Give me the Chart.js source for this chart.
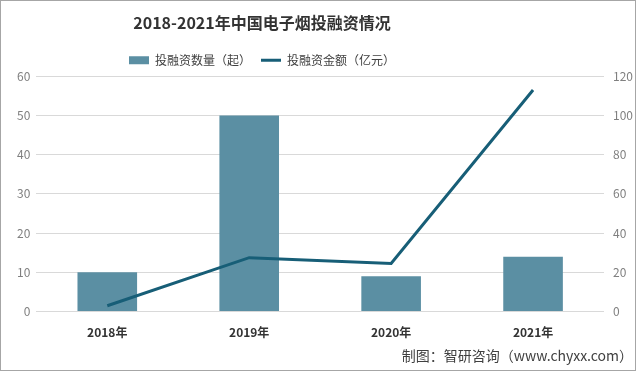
<!DOCTYPE html>
<html>
<head>
<meta charset="utf-8">
<script src="https://cdn.jsdelivr.net/npm/chart.js@4"></script>
<style>
    body { margin: 0; background: #fff; }
    .wrap { position: relative; width: 634px; height: 369px; border: 1px solid #a6a6a6; }
    .source { position: absolute; right: 2px; bottom: 5px; font: 14px "Noto Sans CJK SC", sans-serif; color: #404040; }
</style>
</head>
<body>
<div class="wrap">
    <canvas id="myChart" width="634" height="369"></canvas>
    <div class="source">制图：智研咨询（www.chyxx.com）</div>
</div>
<script>
const years = ['2018年', '2019年', '2020年', '2021年'];
const dealCount = [10, 50, 9, 14];
const dealAmount = [3, 27.5, 24.5, 113];
const leftTicks = [0, 10, 20, 30, 40, 50, 60];
const rightTicks = [0, 20, 40, 60, 80, 100, 120];

const cjk = '"Noto Sans CJK SC", sans-serif';

// title and legend sit left of centre in the original
const shiftHeader = {
    id: 'shiftHeader',
    beforeDraw(chart) {
        [chart.titleBlock, chart.legend].forEach(box => {
            box.left = 0;
            box.right = 522;
        });
    },
};

const dataChart = {
    labels: years,
    datasets: [
        {
            type: 'line',
            label: '投融资金额（亿元）',
            data: dealAmount,
            yAxisID: 'y1',
            borderColor: '#175e77',
            backgroundColor: '#175e77',
            borderWidth: 3,
            pointRadius: 0,
            pointStyle: 'line',
            tension: 0,
            order: 0,
        },
        {
            type: 'bar',
            label: '投融资数量（起）',
            data: dealCount,
            yAxisID: 'y',
            backgroundColor: '#5b8fa3',
            pointStyle: 'rect',
            categoryPercentage: 1,
            barPercentage: 0.42,
            order: 1,
        },
    ],
};

const configChart = {
    data: dataChart,
    options: {
        responsive: false,
        animation: false,
        layout: { padding: { left: 10, right: -7, top: 6, bottom: 24 } },
        plugins: {
            title: {
                display: true,
                text: '2018-2021年中国电子烟投融资情况',
                color: '#333',
                font: { family: cjk, size: 16, weight: 'bold' },
                padding: { top: 6, bottom: 12 },
            },
            legend: {
                reverse: true,
                labels: {
                    usePointStyle: true,
                    pointStyleWidth: 20,
                    boxHeight: 8,
                    color: '#404040',
                    font: { family: cjk, size: 12 },
                    padding: 10,
                },
            },
            tooltip: { enabled: false },
        },
        scales: {
            x: {
                grid: { display: false },
                border: { display: false },
                ticks: { color: '#333', font: { family: cjk, size: 12, weight: 'bold' }, padding: 6 },
            },
            y: {
                position: 'left',
                min: 0,
                max: 60,
                afterBuildTicks: axis => { axis.ticks = leftTicks.map(v => ({ value: v })); },
                grid: { color: '#d9d9d9', drawTicks: false },
                border: { display: false },
                ticks: { color: '#7f7f7f', font: { family: cjk, size: 12 }, padding: 6 },
            },
            y1: {
                position: 'right',
                min: 0,
                max: 120,
                afterBuildTicks: axis => { axis.ticks = rightTicks.map(v => ({ value: v })); },
                grid: { display: false, drawTicks: false },
                border: { display: false },
                ticks: { color: '#7f7f7f', font: { family: cjk, size: 12 }, padding: 9 },
            },
        },
    },
    plugins: [shiftHeader],
};

const myChart = new Chart(document.getElementById('myChart'), configChart);
</script>
</body>
</html>
